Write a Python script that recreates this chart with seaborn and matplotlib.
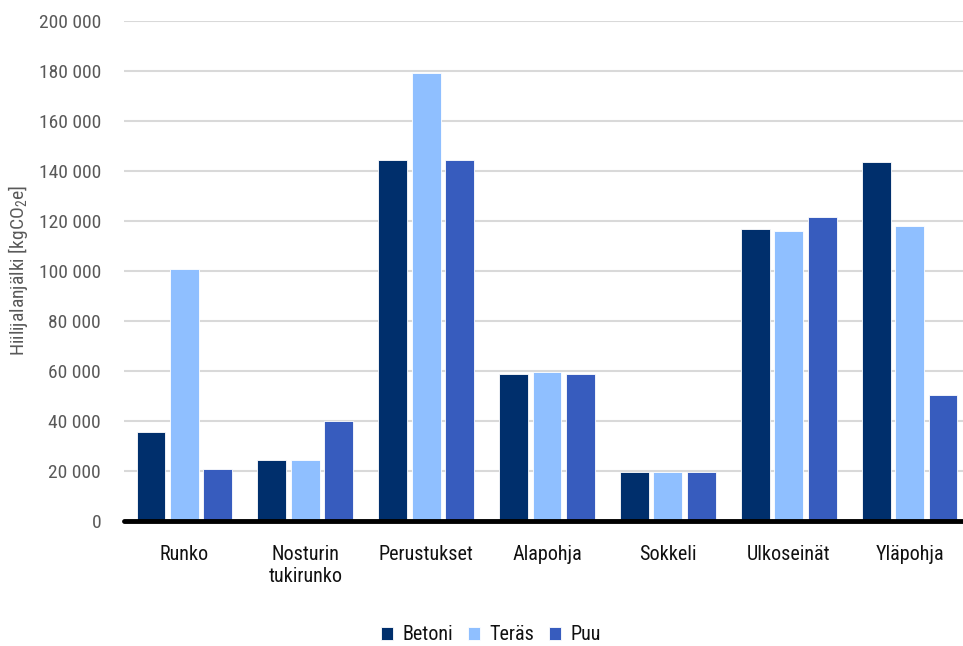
import matplotlib
matplotlib.use("Agg")
import matplotlib.pyplot as plt
import seaborn as sns
import pandas as pd
from matplotlib.ticker import FuncFormatter

# Carbon footprint per building part for three frame materials
categories = ["Runko", "Nosturin\ntukirunko", "Perustukset", "Alapohja",
              "Sokkeli", "Ulkoseinät", "Yläpohja"]
materials = ["Betoni", "Teräs", "Puu"]
betoni = [35700, 24300, 144400, 59000, 19700, 117000, 143600]
teras = [100900, 24600, 179200, 59500, 19700, 116000, 118200]
puu = [20700, 40000, 144400, 59000, 19700, 121600, 50400]
yticks = list(range(0, 200001, 20000))

colors = ["#002F6C", "#8FBFFF", "#375CBE"]

rows = []
for mat, vals in zip(materials, [betoni, teras, puu]):
    for cat, v in zip(categories, vals):
        rows.append({"Osa": cat, "Materiaali": mat, "Arvo": v})
df = pd.DataFrame(rows)

sns.set_theme(style="white")
plt.rcParams["font.family"] = ["Roboto Condensed", "DejaVu Sans"]
plt.rcParams["font.stretch"] = "condensed"
plt.rcParams["mathtext.default"] = "regular"

fig = plt.figure(figsize=(9.63, 6.46), dpi=100)
ax = fig.add_axes([124 / 963, 1 - 521 / 646, 846 / 963, 500 / 646])

sns.barplot(data=df, x="Osa", y="Arvo", hue="Materiaali", order=categories,
            hue_order=materials, palette=colors, width=0.83, gap=0.14,
            saturation=1, edgecolor="white", linewidth=0.6, ax=ax,
            legend=True, errorbar=None)

ax.set_xlim(-0.5, 6.5)
ax.set_ylim(0, 200000)
ax.set_yticks(yticks)
ax.yaxis.set_major_formatter(FuncFormatter(lambda v, p: f"{int(v):,}".replace(",", " ")))
ax.grid(axis="y", color="#D9D9D9", linewidth=1.5)
ax.set_axisbelow(True)
for s in ["top", "right", "left", "bottom"]:
    ax.spines[s].set_visible(False)
ax.axhline(0, color="black", linewidth=3.5, zorder=5, clip_on=False)

ax.tick_params(axis="y", length=0, pad=16.5, labelsize=14, labelcolor="#595959")
ax.tick_params(axis="x", length=0, pad=17, labelsize=14.5, labelcolor="#111111")
ax.set_xlabel("")
ax.set_ylabel("Hiilijalanjälki [kgCO$_2$e]", fontsize=14, color="#595959")
ax.yaxis.set_label_coords(-0.111, 0.5)

ax.legend(loc="lower center", bbox_to_anchor=(0.434, -0.263), ncol=3, frameon=False,
          fontsize=14.5, handlelength=0.6, handleheight=0.6, handletextpad=0.45,
          columnspacing=0.75, borderaxespad=0, labelcolor="#111111")

fig.savefig("out.png", dpi=100)
